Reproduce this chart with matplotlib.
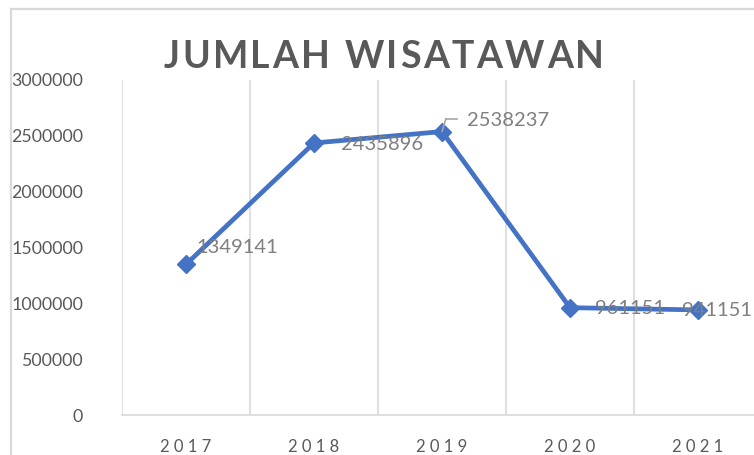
import matplotlib
matplotlib.use("Agg")
import matplotlib.pyplot as plt
from matplotlib.lines import Line2D

years = ["2017", "2018", "2019", "2020", "2021"]
visitors = [1349141, 2435896, 2538237, 961151, 941151]
y_ticks = [0, 500000, 1000000, 1500000, 2000000, 2500000, 3000000]
title = "JUMLAH WISATAWAN"
# label offsets in pixels (left edge of text, vertical centre)
label_offsets = [(10, 17), (27, -2), (25, 11), (25, -1), (-16, -1)]

W, H = 754, 455
fig = plt.figure(figsize=(W / 100, H / 100), dpi=100)
fig.patch.set_facecolor("white")

# chart border (cropped chart box)
border = "#d9d9d9"
fig.add_artist(Line2D([11 / W, 11 / W], [0, 1 - 9 / H], transform=fig.transFigure,
                      color=border, lw=1.6))
fig.add_artist(Line2D([11 / W, 1], [1 - 9 / H, 1 - 9 / H], transform=fig.transFigure,
                      color=border, lw=1.6))

left, right = 122 / W, 762 / W
bottom, top = 1 - 415 / H, 1 - 80 / H
ax = fig.add_axes([left, bottom, right - left, top - bottom])
ax.set_xlim(-0.5, len(years) - 0.5)
ax.set_ylim(0, 3000000)
ax.patch.set_alpha(0)
for s in ["top", "right", "left"]:
    ax.spines[s].set_visible(False)
ax.spines["bottom"].set_color("#d9d9d9")
ax.spines["bottom"].set_linewidth(1.2)

for xv in [i - 0.5 for i in range(len(years) + 1)]:
    ax.axvline(xv, color="#d9d9d9", lw=1.2, zorder=0)

x = list(range(len(years)))
ax.plot(x, visitors, color="#4472C4", lw=3.4, marker="D", markersize=9,
        markerfacecolor="#4472C4", markeredgecolor="#4472C4", zorder=3,
        clip_on=False)

ax.set_yticks(y_ticks)
ax.set_yticklabels([str(v) for v in y_ticks], fontfamily="Lato", fontsize=12.8,
                   color="#595959")
ax.set_xticks(x)
ax.set_xticklabels([" ".join(list(y)) for y in years], fontfamily="Lato",
                   fontsize=12, color="#595959")
ax.tick_params(axis="y", length=0, pad=28)
ax.tick_params(axis="x", length=0, pad=17)

for i, (v, (dx, dy)) in enumerate(zip(visitors, label_offsets)):
    ax.annotate(str(v), (i, v), xytext=(dx, dy), textcoords="offset pixels",
                ha="left", va="center", fontfamily="Lato", fontsize=14.5,
                color="#7f7f7f", zorder=4, annotation_clip=False)

# leader line for 2019 label
i2 = 2
ax.annotate("", (i2, visitors[i2]), xytext=(4, 13), textcoords="offset pixels",
            arrowprops=dict(arrowstyle="-", color="#a6a6a6", lw=1.2,
                            shrinkA=0, shrinkB=0))
px, py = ax.transData.transform((i2, visitors[i2]))
fig.add_artist(Line2D([(px + 4) / W, (px + 15) / W], [(py + 13) / H, (py + 13) / H],
                      transform=fig.transFigure, color="#a6a6a6", lw=1.2))

# title with letter spacing
fig.canvas.draw()
renderer = fig.canvas.get_renderer()
spacing = 2.5
fp = dict(fontfamily="Lato", fontweight="bold", fontsize=27, color="#595959")
widths = []
for ch in title:
    tt = fig.text(0, 0, ch if ch != " " else "n", **fp)
    w = tt.get_window_extent(renderer).width
    if ch == " ":
        w *= 0.45
    widths.append(w)
    tt.remove()
total = sum(widths) + spacing * (len(title) - 1)
cx, cy = 384, H - 57
xcur = cx - total / 2
for ch, w in zip(title, widths):
    if ch != " ":
        fig.text(xcur / W, cy / H, ch, ha="left", va="center", **fp)
    xcur += w + spacing

fig.savefig("out.png", dpi=100, facecolor="white")
